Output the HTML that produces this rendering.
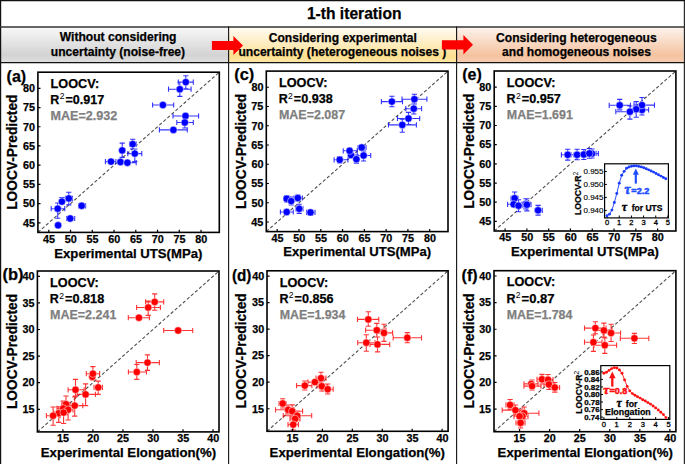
<!DOCTYPE html>
<html><head><meta charset="utf-8"><style>html,body{margin:0;padding:0;background:#fff;width:685px;height:464px;overflow:hidden}</style></head>
<body><svg width="685" height="464" viewBox="0 0 685 464" style="display:block">
<defs>
<linearGradient id="gg" x1="0" y1="0" x2="0" y2="1">
<stop offset="0" stop-color="#f8f8f8"/><stop offset="0.78" stop-color="#d3d3d3"/><stop offset="1" stop-color="#dedede"/></linearGradient>
<linearGradient id="gy" x1="0" y1="0" x2="0" y2="1">
<stop offset="0" stop-color="#fffbf2"/><stop offset="0.45" stop-color="#feedc2"/><stop offset="0.82" stop-color="#fde08e"/><stop offset="1" stop-color="#fde6a6"/></linearGradient>
<linearGradient id="go" x1="0" y1="0" x2="0" y2="1">
<stop offset="0" stop-color="#fdf3ed"/><stop offset="0.8" stop-color="#f4c29e"/><stop offset="1" stop-color="#f6ceb2"/></linearGradient>
</defs>
<rect width="685" height="464" fill="#fff"/>
<rect x="1" y="27.5" width="227.5" height="35" fill="url(#gg)"/>
<rect x="228.5" y="27.5" width="228" height="35" fill="url(#gy)"/>
<rect x="456.5" y="27.5" width="227" height="35" fill="url(#go)"/>
<g stroke="#111" fill="none">
<line x1="0.6" y1="0" x2="0.6" y2="464" stroke-width="1.2"/>
<line x1="684.4" y1="0" x2="684.4" y2="464" stroke="#2a2a2a" stroke-width="1.2"/>
<line x1="0" y1="0.6" x2="685" y2="0.6" stroke-width="1.2"/>
<line x1="0" y1="26.9" x2="685" y2="26.9" stroke="#333" stroke-width="1.5"/>
<line x1="0" y1="62.6" x2="685" y2="62.6" stroke-width="1.3"/>
<line x1="228.6" y1="26.5" x2="228.6" y2="464" stroke-width="1.1"/>
<line x1="456.6" y1="26.5" x2="456.6" y2="464" stroke-width="1.1"/>
</g>
<text x="306.92" y="18.7" font-family="Liberation Sans, sans-serif" font-size="15.65" font-weight="bold" fill="#000" textLength="94.55" lengthAdjust="spacingAndGlyphs" stroke="#000" stroke-width="0.25" >1-th iteration</text>
<text x="59.79" y="40.9" font-family="Liberation Sans, sans-serif" font-size="12.07" font-weight="bold" fill="#000" textLength="116.72" lengthAdjust="spacingAndGlyphs" stroke="#000" stroke-width="0.25" >Without considering</text>
<text x="50.85" y="55.5" font-family="Liberation Sans, sans-serif" font-size="12.07" font-weight="bold" fill="#000" textLength="134.25" lengthAdjust="spacingAndGlyphs" stroke="#000" stroke-width="0.25" >uncertainty (noise-free)</text>
<text x="268.81" y="42.0" font-family="Liberation Sans, sans-serif" font-size="12.07" font-weight="bold" fill="#000" textLength="147.95" lengthAdjust="spacingAndGlyphs" stroke="#000" stroke-width="0.25" >Considering experimental</text>
<text x="238.45" y="56.4" font-family="Liberation Sans, sans-serif" font-size="12.07" font-weight="bold" fill="#000" textLength="207.95" lengthAdjust="spacingAndGlyphs" stroke="#000" stroke-width="0.25" >uncertainty (heterogeneous noises )</text>
<text x="496.1" y="41.6" font-family="Liberation Sans, sans-serif" font-size="12.07" font-weight="bold" fill="#000" textLength="160.59" lengthAdjust="spacingAndGlyphs" stroke="#000" stroke-width="0.25" >Considering heterogeneous</text>
<text x="502.05" y="56.0" font-family="Liberation Sans, sans-serif" font-size="12.07" font-weight="bold" fill="#000" textLength="148.85" lengthAdjust="spacingAndGlyphs" stroke="#000" stroke-width="0.25" >and homogeneous noises</text>
<path d="M211.9,41.1 L233.4,41.1 L233.4,35.9 L243,45.5 L233.4,55.1 L233.4,49.9 L211.9,49.9 Z" fill="#ff0000"/>
<path d="M441.9,40.199999999999996 L463.4,40.199999999999996 L463.4,35.099999999999994 L473,44.8 L463.4,54.5 L463.4,49.4 L441.9,49.4 Z" fill="#ff0000"/>
<line x1="37.9" y1="232.4" x2="219.3" y2="72.2" stroke="#505050" stroke-width="1.1" stroke-dasharray="3.3,2.1"/>
<path d="M178.3,82.1H193.3M178.3,79.5V84.69999999999999M193.3,79.5V84.69999999999999M185.8,75.7V88.9M183.20000000000002,75.7H188.4M183.20000000000002,88.9H188.4M168.5,89.2H191.1M168.5,86.60000000000001V91.8M191.1,86.60000000000001V91.8M179.8,82.0V96.4M177.20000000000002,82.0H182.4M177.20000000000002,96.4H182.4M152.6,105.0H173.7M152.6,102.4V107.6M173.7,102.4V107.6M173.0,116.0H198.6M173.0,113.4V118.6M198.6,113.4V118.6M176.8,122.5H193.3M176.8,119.9V125.1M193.3,119.9V125.1M184.8,117V128M182.20000000000002,117H187.4M182.20000000000002,128H187.4M159.4,129.9H187.3M159.4,127.30000000000001V132.5M187.3,127.30000000000001V132.5M129.5,144.1H136.2M129.5,141.5V146.7M136.2,141.5V146.7M132.7,139.2V149M130.1,139.2H135.29999999999998M130.1,149H135.29999999999998M122.2,143.1V157.4M119.60000000000001,143.1H124.8M119.60000000000001,157.4H124.8M127.8,153.6H141.8M127.8,151.0V156.2M141.8,151.0V156.2M134.8,149V161.6M132.20000000000002,149H137.4M132.20000000000002,161.6H137.4M105.4,161.6H115.9M105.4,159.0V164.2M115.9,159.0V164.2M122,162.7H136.2M122,160.1V165.29999999999998M136.2,160.1V165.29999999999998M65.4,198.4H72.5M65.4,195.8V201.0M72.5,195.8V201.0M68.8,192.2V204.9M66.2,192.2H71.39999999999999M66.2,204.9H71.39999999999999M61.9,197.5V204M59.3,197.5H64.5M59.3,204H64.5M51.2,208.7H64.8M51.2,206.1V211.29999999999998M64.8,206.1V211.29999999999998M57.7,203V218.2M55.1,203H60.300000000000004M55.1,218.2H60.300000000000004M78.5,205.8H85.6M78.5,203.20000000000002V208.4M85.6,203.20000000000002V208.4M66.6,218.5H74.7M66.6,215.9V221.1M74.7,215.9V221.1" stroke="#0000ff" stroke-width="1.1" fill="none" opacity="0.8"/>
<circle cx="185.8" cy="82.1" r="3.7" fill="#0000ff" stroke="#fff" stroke-width="0.5"/>
<circle cx="179.8" cy="89.2" r="3.7" fill="#0000ff" stroke="#fff" stroke-width="0.5"/>
<circle cx="162.9" cy="105.0" r="3.7" fill="#0000ff" stroke="#fff" stroke-width="0.5"/>
<circle cx="185.5" cy="116.0" r="3.7" fill="#0000ff" stroke="#fff" stroke-width="0.5"/>
<circle cx="184.8" cy="122.5" r="3.7" fill="#0000ff" stroke="#fff" stroke-width="0.5"/>
<circle cx="173.4" cy="129.9" r="3.7" fill="#0000ff" stroke="#fff" stroke-width="0.5"/>
<circle cx="132.7" cy="144.1" r="3.7" fill="#0000ff" stroke="#fff" stroke-width="0.5"/>
<circle cx="122.2" cy="150.4" r="3.7" fill="#0000ff" stroke="#fff" stroke-width="0.5"/>
<circle cx="134.8" cy="153.6" r="3.7" fill="#0000ff" stroke="#fff" stroke-width="0.5"/>
<circle cx="111.0" cy="161.6" r="3.7" fill="#0000ff" stroke="#fff" stroke-width="0.5"/>
<circle cx="120.5" cy="162.0" r="3.7" fill="#0000ff" stroke="#fff" stroke-width="0.5"/>
<circle cx="127.4" cy="162.7" r="3.7" fill="#0000ff" stroke="#fff" stroke-width="0.5"/>
<circle cx="68.8" cy="198.4" r="3.7" fill="#0000ff" stroke="#fff" stroke-width="0.5"/>
<circle cx="61.9" cy="201.6" r="3.7" fill="#0000ff" stroke="#fff" stroke-width="0.5"/>
<circle cx="57.7" cy="208.7" r="3.7" fill="#0000ff" stroke="#fff" stroke-width="0.5"/>
<circle cx="81.7" cy="205.8" r="3.7" fill="#0000ff" stroke="#fff" stroke-width="0.5"/>
<circle cx="70.2" cy="218.5" r="3.7" fill="#0000ff" stroke="#fff" stroke-width="0.5"/>
<circle cx="58.1" cy="225.3" r="3.7" fill="#0000ff" stroke="#fff" stroke-width="0.5"/>
<rect x="37.9" y="72.2" width="181.4" height="160.2" fill="none" stroke="#000" stroke-width="1.6"/>
<path d="M48.78,232.4V229.8M37.9,222.80H40.5M70.53,232.4V229.8M37.9,203.59H40.5M92.28,232.4V229.8M37.9,184.38H40.5M114.03,232.4V229.8M37.9,165.17H40.5M135.78,232.4V229.8M37.9,145.96H40.5M157.53,232.4V229.8M37.9,126.75H40.5M179.28,232.4V229.8M37.9,107.54H40.5M201.03,232.4V229.8M37.9,88.34H40.5" stroke="#000" stroke-width="1.2"/>
<text x="43.04" y="242.70000000000002" font-family="Liberation Sans, sans-serif" font-size="10.8" font-weight="bold" fill="#000" textLength="12.01" lengthAdjust="spacingAndGlyphs" stroke="#000" stroke-width="0.25" >45</text>
<text x="22.89" y="226.59568345323743" font-family="Liberation Sans, sans-serif" font-size="10.8" font-weight="bold" fill="#000" textLength="12.01" lengthAdjust="spacingAndGlyphs" stroke="#000" stroke-width="0.25" >45</text>
<text x="64.77" y="242.70000000000002" font-family="Liberation Sans, sans-serif" font-size="10.8" font-weight="bold" fill="#000" textLength="12.01" lengthAdjust="spacingAndGlyphs" stroke="#000" stroke-width="0.25" >50</text>
<text x="23.03" y="207.38705035971225" font-family="Liberation Sans, sans-serif" font-size="10.8" font-weight="bold" fill="#000" textLength="12.01" lengthAdjust="spacingAndGlyphs" stroke="#000" stroke-width="0.25" >50</text>
<text x="86.45" y="242.70000000000002" font-family="Liberation Sans, sans-serif" font-size="10.8" font-weight="bold" fill="#000" textLength="12.01" lengthAdjust="spacingAndGlyphs" stroke="#000" stroke-width="0.25" >55</text>
<text x="22.89" y="188.17841726618707" font-family="Liberation Sans, sans-serif" font-size="10.8" font-weight="bold" fill="#000" textLength="12.01" lengthAdjust="spacingAndGlyphs" stroke="#000" stroke-width="0.25" >55</text>
<text x="108.24" y="242.70000000000002" font-family="Liberation Sans, sans-serif" font-size="10.8" font-weight="bold" fill="#000" textLength="12.01" lengthAdjust="spacingAndGlyphs" stroke="#000" stroke-width="0.25" >60</text>
<text x="23.03" y="168.9697841726619" font-family="Liberation Sans, sans-serif" font-size="10.8" font-weight="bold" fill="#000" textLength="12.01" lengthAdjust="spacingAndGlyphs" stroke="#000" stroke-width="0.25" >60</text>
<text x="129.92" y="242.70000000000002" font-family="Liberation Sans, sans-serif" font-size="10.8" font-weight="bold" fill="#000" textLength="12.01" lengthAdjust="spacingAndGlyphs" stroke="#000" stroke-width="0.25" >65</text>
<text x="22.89" y="149.7611510791367" font-family="Liberation Sans, sans-serif" font-size="10.8" font-weight="bold" fill="#000" textLength="12.01" lengthAdjust="spacingAndGlyphs" stroke="#000" stroke-width="0.25" >65</text>
<text x="151.71" y="242.70000000000002" font-family="Liberation Sans, sans-serif" font-size="10.8" font-weight="bold" fill="#000" textLength="12.01" lengthAdjust="spacingAndGlyphs" stroke="#000" stroke-width="0.25" >70</text>
<text x="23.03" y="130.55251798561153" font-family="Liberation Sans, sans-serif" font-size="10.8" font-weight="bold" fill="#000" textLength="12.01" lengthAdjust="spacingAndGlyphs" stroke="#000" stroke-width="0.25" >70</text>
<text x="173.39" y="242.70000000000002" font-family="Liberation Sans, sans-serif" font-size="10.8" font-weight="bold" fill="#000" textLength="12.01" lengthAdjust="spacingAndGlyphs" stroke="#000" stroke-width="0.25" >75</text>
<text x="22.89" y="111.34388489208635" font-family="Liberation Sans, sans-serif" font-size="10.8" font-weight="bold" fill="#000" textLength="12.01" lengthAdjust="spacingAndGlyphs" stroke="#000" stroke-width="0.25" >75</text>
<text x="195.27" y="242.70000000000002" font-family="Liberation Sans, sans-serif" font-size="10.8" font-weight="bold" fill="#000" textLength="12.01" lengthAdjust="spacingAndGlyphs" stroke="#000" stroke-width="0.25" >80</text>
<text x="23.03" y="92.13525179856116" font-family="Liberation Sans, sans-serif" font-size="10.8" font-weight="bold" fill="#000" textLength="12.01" lengthAdjust="spacingAndGlyphs" stroke="#000" stroke-width="0.25" >80</text>
<text x="6.6" y="81.5" font-family="Liberation Sans, sans-serif" font-size="16" font-weight="bold" fill="#000" textLength="19.6" lengthAdjust="spacingAndGlyphs" stroke="#000" stroke-width="0.25" >(a)</text>
<text x="50.56" y="87.9" font-family="Liberation Sans, sans-serif" font-size="12.5" font-weight="bold" fill="#000" textLength="48.64" lengthAdjust="spacingAndGlyphs" stroke="#000" stroke-width="0.25" >LOOCV:</text>
<text x="50.3" y="103.89999999999999" font-family="Liberation Sans, sans-serif" font-size="12.5" font-weight="bold" fill="#000" stroke="#000" stroke-width="0.25">R</text>
<text x="59.64" y="99.10000000000001" font-family="Liberation Sans, sans-serif" font-size="8.6" fill="#000">2</text>
<text x="65.48" y="103.89999999999999" font-family="Liberation Sans, sans-serif" font-size="12.5" font-weight="bold" fill="#000" textLength="38.77" lengthAdjust="spacingAndGlyphs" stroke="#000" stroke-width="0.25" >=0.917</text>
<text x="50.56" y="119.8" font-family="Liberation Sans, sans-serif" font-size="12.5" font-weight="bold" fill="#7f7f7f" textLength="66.74" lengthAdjust="spacingAndGlyphs" stroke="#7f7f7f" stroke-width="0.25" >MAE=2.932</text>
<text x="54.32" y="257.7" font-family="Liberation Sans, sans-serif" font-size="13.15" font-weight="bold" fill="#000" textLength="148.03" lengthAdjust="spacingAndGlyphs" stroke="#000" stroke-width="0.25" >Experimental UTS(MPa)</text>
<text transform="translate(17.0,208.9) rotate(-90)" x="-0.91" y="0" font-family="Liberation Sans, sans-serif" font-size="14.2" font-weight="bold" fill="#000" textLength="115.21" lengthAdjust="spacingAndGlyphs" stroke="#000" stroke-width="0.25">LOOCV-Predicted</text>
<line x1="266.3" y1="231.6" x2="448.0" y2="71.1" stroke="#505050" stroke-width="1.1" stroke-dasharray="3.3,2.1"/>
<path d="M381.4,101.6H402.5M381.4,99.0V104.19999999999999M402.5,99.0V104.19999999999999M391.9,96.3V106.7M389.29999999999995,96.3H394.5M389.29999999999995,106.7H394.5M402.0,99.2H426.9M402.0,96.60000000000001V101.8M426.9,96.60000000000001V101.8M414.4,94.3V104M411.79999999999995,94.3H417.0M411.79999999999995,104H417.0M405.8,108.7H421.6M405.8,106.10000000000001V111.3M421.6,106.10000000000001V111.3M413.8,104V114M411.2,104H416.40000000000003M411.2,114H416.40000000000003M397.5,118.5H419.7M397.5,115.9V121.1M419.7,115.9V121.1M408.5,112.4V124.5M405.9,112.4H411.1M405.9,124.5H411.1M388.5,124.9H416.4M388.5,122.30000000000001V127.5M416.4,122.30000000000001V127.5M402.3,119.2V132.3M399.7,119.2H404.90000000000003M399.7,132.3H404.90000000000003M358,147.5H366M358,144.9V150.1M366,144.9V150.1M361.7,144.6V150.4M359.09999999999997,144.6H364.3M359.09999999999997,150.4H364.3M343.2,150.8H357.2M343.2,148.20000000000002V153.4M357.2,148.20000000000002V153.4M357.2,155.5H370.7M357.2,152.9V158.1M370.7,152.9V158.1M363.6,151V161M361.0,151H366.20000000000005M361.0,161H366.20000000000005M356.4,155V163.3M353.79999999999995,155H359.0M353.79999999999995,163.3H359.0M334.1,159.8H347.9M334.1,157.20000000000002V162.4M347.9,157.20000000000002V162.4M339.7,156.5V163M337.09999999999997,156.5H342.3M337.09999999999997,163H342.3M284,198.7H290M284,196.1V201.29999999999998M290,196.1V201.29999999999998M286.7,195.5V202M284.09999999999997,195.5H289.3M284.09999999999997,202H289.3M291.2,197V205M288.59999999999997,197H293.8M288.59999999999997,205H293.8M294,198.0H302.4M294,195.4V200.6M302.4,195.4V200.6M297.8,195V201M295.2,195H300.40000000000003M295.2,201H300.40000000000003M296,208.8H303M296,206.20000000000002V211.4M303,206.20000000000002V211.4M299.2,204.3V213.4M296.59999999999997,204.3H301.8M296.59999999999997,213.4H301.8M280.4,212.0H293.3M280.4,209.4V214.6M293.3,209.4V214.6M306.6,212.4H315M306.6,209.8V215.0M315,209.8V215.0M310.5,209.5V215.5M307.9,209.5H313.1M307.9,215.5H313.1" stroke="#0000ff" stroke-width="1.1" fill="none" opacity="0.8"/>
<circle cx="391.9" cy="101.6" r="3.7" fill="#0000ff" stroke="#fff" stroke-width="0.5"/>
<circle cx="414.4" cy="99.2" r="3.7" fill="#0000ff" stroke="#fff" stroke-width="0.5"/>
<circle cx="413.8" cy="108.7" r="3.7" fill="#0000ff" stroke="#fff" stroke-width="0.5"/>
<circle cx="408.5" cy="118.5" r="3.7" fill="#0000ff" stroke="#fff" stroke-width="0.5"/>
<circle cx="402.3" cy="124.9" r="3.7" fill="#0000ff" stroke="#fff" stroke-width="0.5"/>
<circle cx="361.7" cy="147.5" r="3.7" fill="#0000ff" stroke="#fff" stroke-width="0.5"/>
<circle cx="351.0" cy="155.1" r="3.7" fill="#0000ff" stroke="#fff" stroke-width="0.5"/>
<circle cx="349.6" cy="150.8" r="3.7" fill="#0000ff" stroke="#fff" stroke-width="0.5"/>
<circle cx="363.6" cy="155.5" r="3.7" fill="#0000ff" stroke="#fff" stroke-width="0.5"/>
<circle cx="356.4" cy="159.2" r="3.7" fill="#0000ff" stroke="#fff" stroke-width="0.5"/>
<circle cx="339.7" cy="159.8" r="3.7" fill="#0000ff" stroke="#fff" stroke-width="0.5"/>
<circle cx="286.7" cy="198.7" r="3.7" fill="#0000ff" stroke="#fff" stroke-width="0.5"/>
<circle cx="291.2" cy="201.1" r="3.7" fill="#0000ff" stroke="#fff" stroke-width="0.5"/>
<circle cx="297.8" cy="198.0" r="3.7" fill="#0000ff" stroke="#fff" stroke-width="0.5"/>
<circle cx="299.2" cy="208.8" r="3.7" fill="#0000ff" stroke="#fff" stroke-width="0.5"/>
<circle cx="286.7" cy="212.0" r="3.7" fill="#0000ff" stroke="#fff" stroke-width="0.5"/>
<circle cx="310.5" cy="212.4" r="3.7" fill="#0000ff" stroke="#fff" stroke-width="0.5"/>
<rect x="266.3" y="71.1" width="181.7" height="160.5" fill="none" stroke="#000" stroke-width="1.6"/>
<path d="M277.19,231.6V229.0M266.3,221.98H268.90000000000003M298.98,231.6V229.0M266.3,202.73H268.90000000000003M320.77,231.6V229.0M266.3,183.49H268.90000000000003M342.55,231.6V229.0M266.3,164.24H268.90000000000003M364.34,231.6V229.0M266.3,145.00H268.90000000000003M386.13,231.6V229.0M266.3,125.75H268.90000000000003M407.91,231.6V229.0M266.3,106.51H268.90000000000003M429.70,231.6V229.0M266.3,87.27H268.90000000000003" stroke="#000" stroke-width="1.2"/>
<text x="271.46" y="241.9" font-family="Liberation Sans, sans-serif" font-size="10.8" font-weight="bold" fill="#000" textLength="12.01" lengthAdjust="spacingAndGlyphs" stroke="#000" stroke-width="0.25" >45</text>
<text x="251.29" y="225.77769784172662" font-family="Liberation Sans, sans-serif" font-size="10.8" font-weight="bold" fill="#000" textLength="12.01" lengthAdjust="spacingAndGlyphs" stroke="#000" stroke-width="0.25" >45</text>
<text x="293.23" y="241.9" font-family="Liberation Sans, sans-serif" font-size="10.8" font-weight="bold" fill="#000" textLength="12.01" lengthAdjust="spacingAndGlyphs" stroke="#000" stroke-width="0.25" >50</text>
<text x="251.43" y="206.53309352517985" font-family="Liberation Sans, sans-serif" font-size="10.8" font-weight="bold" fill="#000" textLength="12.01" lengthAdjust="spacingAndGlyphs" stroke="#000" stroke-width="0.25" >50</text>
<text x="314.94" y="241.9" font-family="Liberation Sans, sans-serif" font-size="10.8" font-weight="bold" fill="#000" textLength="12.01" lengthAdjust="spacingAndGlyphs" stroke="#000" stroke-width="0.25" >55</text>
<text x="251.29" y="187.2884892086331" font-family="Liberation Sans, sans-serif" font-size="10.8" font-weight="bold" fill="#000" textLength="12.01" lengthAdjust="spacingAndGlyphs" stroke="#000" stroke-width="0.25" >55</text>
<text x="336.77" y="241.9" font-family="Liberation Sans, sans-serif" font-size="10.8" font-weight="bold" fill="#000" textLength="12.01" lengthAdjust="spacingAndGlyphs" stroke="#000" stroke-width="0.25" >60</text>
<text x="251.43" y="168.04388489208634" font-family="Liberation Sans, sans-serif" font-size="10.8" font-weight="bold" fill="#000" textLength="12.01" lengthAdjust="spacingAndGlyphs" stroke="#000" stroke-width="0.25" >60</text>
<text x="358.49" y="241.9" font-family="Liberation Sans, sans-serif" font-size="10.8" font-weight="bold" fill="#000" textLength="12.01" lengthAdjust="spacingAndGlyphs" stroke="#000" stroke-width="0.25" >65</text>
<text x="251.29" y="148.79928057553957" font-family="Liberation Sans, sans-serif" font-size="10.8" font-weight="bold" fill="#000" textLength="12.01" lengthAdjust="spacingAndGlyphs" stroke="#000" stroke-width="0.25" >65</text>
<text x="380.31" y="241.9" font-family="Liberation Sans, sans-serif" font-size="10.8" font-weight="bold" fill="#000" textLength="12.01" lengthAdjust="spacingAndGlyphs" stroke="#000" stroke-width="0.25" >70</text>
<text x="251.43" y="129.5546762589928" font-family="Liberation Sans, sans-serif" font-size="10.8" font-weight="bold" fill="#000" textLength="12.01" lengthAdjust="spacingAndGlyphs" stroke="#000" stroke-width="0.25" >70</text>
<text x="402.02" y="241.9" font-family="Liberation Sans, sans-serif" font-size="10.8" font-weight="bold" fill="#000" textLength="12.01" lengthAdjust="spacingAndGlyphs" stroke="#000" stroke-width="0.25" >75</text>
<text x="251.29" y="110.31007194244604" font-family="Liberation Sans, sans-serif" font-size="10.8" font-weight="bold" fill="#000" textLength="12.01" lengthAdjust="spacingAndGlyphs" stroke="#000" stroke-width="0.25" >75</text>
<text x="423.94" y="241.9" font-family="Liberation Sans, sans-serif" font-size="10.8" font-weight="bold" fill="#000" textLength="12.01" lengthAdjust="spacingAndGlyphs" stroke="#000" stroke-width="0.25" >80</text>
<text x="251.43" y="91.06546762589927" font-family="Liberation Sans, sans-serif" font-size="10.8" font-weight="bold" fill="#000" textLength="12.01" lengthAdjust="spacingAndGlyphs" stroke="#000" stroke-width="0.25" >80</text>
<text x="234.18" y="80.2" font-family="Liberation Sans, sans-serif" font-size="16" font-weight="bold" fill="#000" textLength="20.03" lengthAdjust="spacingAndGlyphs" stroke="#000" stroke-width="0.25" >(c)</text>
<text x="278.96" y="86.8" font-family="Liberation Sans, sans-serif" font-size="12.5" font-weight="bold" fill="#000" textLength="48.64" lengthAdjust="spacingAndGlyphs" stroke="#000" stroke-width="0.25" >LOOCV:</text>
<text x="278.7" y="103.4" font-family="Liberation Sans, sans-serif" font-size="12.5" font-weight="bold" fill="#000" stroke="#000" stroke-width="0.25">R</text>
<text x="288.04" y="98.6" font-family="Liberation Sans, sans-serif" font-size="8.6" fill="#000">2</text>
<text x="293.88" y="103.4" font-family="Liberation Sans, sans-serif" font-size="12.5" font-weight="bold" fill="#000" textLength="38.91" lengthAdjust="spacingAndGlyphs" stroke="#000" stroke-width="0.25" >=0.938</text>
<text x="278.97" y="119.3" font-family="Liberation Sans, sans-serif" font-size="12.5" font-weight="bold" fill="#7f7f7f" textLength="66.18" lengthAdjust="spacingAndGlyphs" stroke="#7f7f7f" stroke-width="0.25" >MAE=2.087</text>
<text x="283.32" y="256.4" font-family="Liberation Sans, sans-serif" font-size="13.15" font-weight="bold" fill="#000" textLength="147.83" lengthAdjust="spacingAndGlyphs" stroke="#000" stroke-width="0.25" >Experimental UTS(MPa)</text>
<text transform="translate(245.6,208.1) rotate(-90)" x="-0.91" y="0" font-family="Liberation Sans, sans-serif" font-size="14.2" font-weight="bold" fill="#000" textLength="115.21" lengthAdjust="spacingAndGlyphs" stroke="#000" stroke-width="0.25">LOOCV-Predicted</text>
<line x1="494.2" y1="231.0" x2="675.9" y2="71.0" stroke="#505050" stroke-width="1.1" stroke-dasharray="3.3,2.1"/>
<path d="M636,109.9H648.6M636,107.30000000000001V112.5M648.6,107.30000000000001V112.5M642.0,105V115M639.4,105H644.6M639.4,115H644.6M609.2,105.3H630.4M609.2,102.7V107.89999999999999M630.4,102.7V107.89999999999999M619.7,99.4V109.9M617.1,99.4H622.3000000000001M617.1,109.9H622.3000000000001M634,105.1H654.5M634,102.5V107.69999999999999M654.5,102.5V107.69999999999999M642.0,97.5V111M639.4,97.5H644.6M639.4,111H644.6M630,109.2H642M630,106.60000000000001V111.8M642,106.60000000000001V111.8M636.2,101.6V117.2M633.6,101.6H638.8000000000001M633.6,117.2H638.8000000000001M615.8,111.7H636M615.8,109.10000000000001V114.3M636,109.10000000000001V114.3M629.9,106V119.1M627.3,106H632.5M627.3,119.1H632.5M561.4,154.8H574M561.4,152.20000000000002V157.4M574,152.20000000000002V157.4M567.7,149.3V160.1M565.1,149.3H570.3000000000001M565.1,160.1H570.3000000000001M571,154.8H583M571,152.20000000000002V157.4M583,152.20000000000002V157.4M577.1,149.3V159.8M574.5,149.3H579.7M574.5,159.8H579.7M578,154.5H590M578,151.9V157.1M590,151.9V157.1M583.8,149.5V159.5M581.1999999999999,149.5H586.4M581.1999999999999,159.5H586.4M586,153.6H598.4M586,151.0V156.2M598.4,151.0V156.2M592.0,149V158M589.4,149H594.6M589.4,158H594.6M584,153.4H596M584,150.8V156.0M596,150.8V156.0M589.4,148.5V158.3M586.8,148.5H592.0M586.8,158.3H592.0M511,198.3H518M511,195.70000000000002V200.9M518,195.70000000000002V200.9M514.6,192V203M512.0,192H517.2M512.0,203H517.2M507.6,204.3H519M507.6,201.70000000000002V206.9M519,201.70000000000002V206.9M514,205.7H523M514,203.1V208.29999999999998M523,203.1V208.29999999999998M518.5,199.7V211.7M515.9,199.7H521.1M515.9,211.7H521.1M522,204.0H530M522,201.4V206.6M530,201.4V206.6M525.9,198.7V209M523.3,198.7H528.5M523.3,209H528.5M523,204.7H531M523,202.1V207.29999999999998M531,202.1V207.29999999999998M526.9,198.7V210.9M524.3,198.7H529.5M524.3,210.9H529.5M535.3,210.3H542.3M535.3,207.70000000000002V212.9M542.3,207.70000000000002V212.9M538.1,205.4V215.1M535.5,205.4H540.7M535.5,215.1H540.7" stroke="#0000ff" stroke-width="1.1" fill="none" opacity="0.8"/>
<circle cx="642.0" cy="109.9" r="3.7" fill="#0000ff" stroke="#fff" stroke-width="0.5"/>
<circle cx="619.7" cy="105.3" r="3.7" fill="#0000ff" stroke="#fff" stroke-width="0.5"/>
<circle cx="642.0" cy="105.1" r="3.7" fill="#0000ff" stroke="#fff" stroke-width="0.5"/>
<circle cx="636.2" cy="109.2" r="3.7" fill="#0000ff" stroke="#fff" stroke-width="0.5"/>
<circle cx="629.9" cy="111.7" r="3.7" fill="#0000ff" stroke="#fff" stroke-width="0.5"/>
<circle cx="567.7" cy="154.8" r="3.7" fill="#0000ff" stroke="#fff" stroke-width="0.5"/>
<circle cx="577.1" cy="154.8" r="3.7" fill="#0000ff" stroke="#fff" stroke-width="0.5"/>
<circle cx="583.8" cy="154.5" r="3.7" fill="#0000ff" stroke="#fff" stroke-width="0.5"/>
<circle cx="592.0" cy="153.6" r="3.7" fill="#0000ff" stroke="#fff" stroke-width="0.5"/>
<circle cx="589.4" cy="153.4" r="3.7" fill="#0000ff" stroke="#fff" stroke-width="0.5"/>
<circle cx="514.6" cy="198.3" r="3.7" fill="#0000ff" stroke="#fff" stroke-width="0.5"/>
<circle cx="513.6" cy="204.3" r="3.7" fill="#0000ff" stroke="#fff" stroke-width="0.5"/>
<circle cx="518.5" cy="205.7" r="3.7" fill="#0000ff" stroke="#fff" stroke-width="0.5"/>
<circle cx="525.9" cy="204.0" r="3.7" fill="#0000ff" stroke="#fff" stroke-width="0.5"/>
<circle cx="526.9" cy="204.7" r="3.7" fill="#0000ff" stroke="#fff" stroke-width="0.5"/>
<circle cx="538.1" cy="210.3" r="3.7" fill="#0000ff" stroke="#fff" stroke-width="0.5"/>
<rect x="494.2" y="71.0" width="181.7" height="160.0" fill="none" stroke="#000" stroke-width="1.6"/>
<path d="M505.09,231.0V228.4M494.2,221.41H496.8M526.88,231.0V228.4M494.2,202.22H496.8M548.67,231.0V228.4M494.2,183.04H496.8M570.45,231.0V228.4M494.2,163.85H496.8M592.24,231.0V228.4M494.2,144.67H496.8M614.03,231.0V228.4M494.2,125.48H496.8M635.81,231.0V228.4M494.2,106.30H496.8M657.60,231.0V228.4M494.2,87.12H496.8" stroke="#000" stroke-width="1.2"/>
<text x="499.36" y="241.3" font-family="Liberation Sans, sans-serif" font-size="10.8" font-weight="bold" fill="#000" textLength="12.01" lengthAdjust="spacingAndGlyphs" stroke="#000" stroke-width="0.25" >45</text>
<text x="479.19" y="225.20767386091129" font-family="Liberation Sans, sans-serif" font-size="10.8" font-weight="bold" fill="#000" textLength="12.01" lengthAdjust="spacingAndGlyphs" stroke="#000" stroke-width="0.25" >45</text>
<text x="521.13" y="241.3" font-family="Liberation Sans, sans-serif" font-size="10.8" font-weight="bold" fill="#000" textLength="12.01" lengthAdjust="spacingAndGlyphs" stroke="#000" stroke-width="0.25" >50</text>
<text x="479.33" y="206.02302158273383" font-family="Liberation Sans, sans-serif" font-size="10.8" font-weight="bold" fill="#000" textLength="12.01" lengthAdjust="spacingAndGlyphs" stroke="#000" stroke-width="0.25" >50</text>
<text x="542.84" y="241.3" font-family="Liberation Sans, sans-serif" font-size="10.8" font-weight="bold" fill="#000" textLength="12.01" lengthAdjust="spacingAndGlyphs" stroke="#000" stroke-width="0.25" >55</text>
<text x="479.19" y="186.83836930455638" font-family="Liberation Sans, sans-serif" font-size="10.8" font-weight="bold" fill="#000" textLength="12.01" lengthAdjust="spacingAndGlyphs" stroke="#000" stroke-width="0.25" >55</text>
<text x="564.67" y="241.3" font-family="Liberation Sans, sans-serif" font-size="10.8" font-weight="bold" fill="#000" textLength="12.01" lengthAdjust="spacingAndGlyphs" stroke="#000" stroke-width="0.25" >60</text>
<text x="479.33" y="167.6537170263789" font-family="Liberation Sans, sans-serif" font-size="10.8" font-weight="bold" fill="#000" textLength="12.01" lengthAdjust="spacingAndGlyphs" stroke="#000" stroke-width="0.25" >60</text>
<text x="586.39" y="241.3" font-family="Liberation Sans, sans-serif" font-size="10.8" font-weight="bold" fill="#000" textLength="12.01" lengthAdjust="spacingAndGlyphs" stroke="#000" stroke-width="0.25" >65</text>
<text x="479.19" y="148.46906474820145" font-family="Liberation Sans, sans-serif" font-size="10.8" font-weight="bold" fill="#000" textLength="12.01" lengthAdjust="spacingAndGlyphs" stroke="#000" stroke-width="0.25" >65</text>
<text x="608.21" y="241.3" font-family="Liberation Sans, sans-serif" font-size="10.8" font-weight="bold" fill="#000" textLength="12.01" lengthAdjust="spacingAndGlyphs" stroke="#000" stroke-width="0.25" >70</text>
<text x="479.33" y="129.284412470024" font-family="Liberation Sans, sans-serif" font-size="10.8" font-weight="bold" fill="#000" textLength="12.01" lengthAdjust="spacingAndGlyphs" stroke="#000" stroke-width="0.25" >70</text>
<text x="629.92" y="241.3" font-family="Liberation Sans, sans-serif" font-size="10.8" font-weight="bold" fill="#000" textLength="12.01" lengthAdjust="spacingAndGlyphs" stroke="#000" stroke-width="0.25" >75</text>
<text x="479.19" y="110.09976019184653" font-family="Liberation Sans, sans-serif" font-size="10.8" font-weight="bold" fill="#000" textLength="12.01" lengthAdjust="spacingAndGlyphs" stroke="#000" stroke-width="0.25" >75</text>
<text x="651.84" y="241.3" font-family="Liberation Sans, sans-serif" font-size="10.8" font-weight="bold" fill="#000" textLength="12.01" lengthAdjust="spacingAndGlyphs" stroke="#000" stroke-width="0.25" >80</text>
<text x="479.33" y="90.91510791366908" font-family="Liberation Sans, sans-serif" font-size="10.8" font-weight="bold" fill="#000" textLength="12.01" lengthAdjust="spacingAndGlyphs" stroke="#000" stroke-width="0.25" >80</text>
<text x="462.2" y="80.0" font-family="Liberation Sans, sans-serif" font-size="16" font-weight="bold" fill="#000" textLength="19.6" lengthAdjust="spacingAndGlyphs" stroke="#000" stroke-width="0.25" >(e)</text>
<text x="506.86" y="86.7" font-family="Liberation Sans, sans-serif" font-size="12.5" font-weight="bold" fill="#000" textLength="48.64" lengthAdjust="spacingAndGlyphs" stroke="#000" stroke-width="0.25" >LOOCV:</text>
<text x="506.59999999999997" y="103.30000000000001" font-family="Liberation Sans, sans-serif" font-size="12.5" font-weight="bold" fill="#000" stroke="#000" stroke-width="0.25">R</text>
<text x="515.94" y="98.5" font-family="Liberation Sans, sans-serif" font-size="8.6" fill="#000">2</text>
<text x="521.77" y="103.30000000000001" font-family="Liberation Sans, sans-serif" font-size="12.5" font-weight="bold" fill="#000" textLength="39.08" lengthAdjust="spacingAndGlyphs" stroke="#000" stroke-width="0.25" >=0.957</text>
<text x="506.87" y="119.2" font-family="Liberation Sans, sans-serif" font-size="12.5" font-weight="bold" fill="#7f7f7f" textLength="65.98" lengthAdjust="spacingAndGlyphs" stroke="#7f7f7f" stroke-width="0.25" >MAE=1.691</text>
<text x="511.12" y="256.2" font-family="Liberation Sans, sans-serif" font-size="13.15" font-weight="bold" fill="#000" textLength="147.83" lengthAdjust="spacingAndGlyphs" stroke="#000" stroke-width="0.25" >Experimental UTS(MPa)</text>
<text transform="translate(473.6,207.9) rotate(-90)" x="-0.91" y="0" font-family="Liberation Sans, sans-serif" font-size="14.2" font-weight="bold" fill="#000" textLength="115.11" lengthAdjust="spacingAndGlyphs" stroke="#000" stroke-width="0.25">LOOCV-Predicted</text>
<line x1="37.4" y1="431.9" x2="219.0" y2="271.0" stroke="#505050" stroke-width="1.1" stroke-dasharray="3.3,2.1"/>
<path d="M145.6,301.9H163.7M145.6,299.29999999999995V304.5M163.7,299.29999999999995V304.5M154.7,293.9V310.2M152.1,293.9H157.29999999999998M152.1,310.2H157.29999999999998M136.6,307.5H160.4M136.6,304.9V310.1M160.4,304.9V310.1M148.2,301V315.4M145.6,301H150.79999999999998M145.6,315.4H150.79999999999998M128.3,317.7H149.4M128.3,315.09999999999997V320.3M149.4,315.09999999999997V320.3M163.7,330.5H192.7M163.7,327.9V333.1M192.7,327.9V333.1M136.2,362.6H159.4M136.2,360.0V365.20000000000005M159.4,360.0V365.20000000000005M147.5,354.9V370.4M144.9,354.9H150.1M144.9,370.4H150.1M128.4,372.0H146.5M128.4,369.4V374.6M146.5,369.4V374.6M136.8,364.5V379.4M134.20000000000002,364.5H139.4M134.20000000000002,379.4H139.4M86.3,373.7H99.6M86.3,371.09999999999997V376.3M99.6,371.09999999999997V376.3M92.9,366.6V380M90.30000000000001,366.6H95.5M90.30000000000001,380H95.5M94,387.4H102.5M94,384.79999999999995V390.0M102.5,384.79999999999995V390.0M98.2,381.1V394.4M95.60000000000001,381.1H100.8M95.60000000000001,394.4H100.8M68.1,389.8H84.2M68.1,387.2V392.40000000000003M84.2,387.2V392.40000000000003M75.5,379.4V396M72.9,379.4H78.1M72.9,396H78.1M77.2,394.4H95.4M77.2,391.79999999999995V397.0M95.4,391.79999999999995V397.0M85.6,383.9V405.6M83.0,383.9H88.19999999999999M83.0,405.6H88.19999999999999M62,404.2H70M62,401.59999999999997V406.8M70,401.59999999999997V406.8M66.0,396V410M63.4,396H68.6M63.4,410H68.6M68.8,405.6H82.8M68.8,403.0V408.20000000000005M82.8,403.0V408.20000000000005M74.7,397V416.1M72.10000000000001,397H77.3M72.10000000000001,416.1H77.3M57,408.4H69M57,405.79999999999995V411.0M69,405.79999999999995V411.0M63.2,401V415M60.6,401H65.8M60.6,415H65.8M64,409.8H73M64,407.2V412.40000000000003M73,407.2V412.40000000000003M68.1,403V420M65.5,403H70.69999999999999M65.5,420H70.69999999999999M54,413.3H63M54,410.7V415.90000000000003M63,410.7V415.90000000000003M58.7,406.7V422.4M56.1,406.7H61.300000000000004M56.1,422.4H61.300000000000004M60,412.6H67M60,410.0V415.20000000000005M67,410.0V415.20000000000005M63.6,404V423.5M61.0,404H66.2M61.0,423.5H66.2M46.4,415.7H60M46.4,413.09999999999997V418.3M60,413.09999999999997V418.3M53.1,407V425.2M50.5,407H55.7M50.5,425.2H55.7" stroke="#ff0000" stroke-width="1.1" fill="none" opacity="0.8"/>
<circle cx="154.7" cy="301.9" r="3.7" fill="#ff0000" stroke="#fff" stroke-width="0.5"/>
<circle cx="148.2" cy="307.5" r="3.7" fill="#ff0000" stroke="#fff" stroke-width="0.5"/>
<circle cx="138.9" cy="317.7" r="3.7" fill="#ff0000" stroke="#fff" stroke-width="0.5"/>
<circle cx="178.1" cy="330.5" r="3.7" fill="#ff0000" stroke="#fff" stroke-width="0.5"/>
<circle cx="147.5" cy="362.6" r="3.7" fill="#ff0000" stroke="#fff" stroke-width="0.5"/>
<circle cx="136.8" cy="372.0" r="3.7" fill="#ff0000" stroke="#fff" stroke-width="0.5"/>
<circle cx="92.3" cy="376.8" r="3.7" fill="#ff0000" stroke="#fff" stroke-width="0.5"/>
<circle cx="92.9" cy="373.7" r="3.7" fill="#ff0000" stroke="#fff" stroke-width="0.5"/>
<circle cx="98.2" cy="387.4" r="3.7" fill="#ff0000" stroke="#fff" stroke-width="0.5"/>
<circle cx="75.5" cy="389.8" r="3.7" fill="#ff0000" stroke="#fff" stroke-width="0.5"/>
<circle cx="85.6" cy="394.4" r="3.7" fill="#ff0000" stroke="#fff" stroke-width="0.5"/>
<circle cx="66.0" cy="404.2" r="3.7" fill="#ff0000" stroke="#fff" stroke-width="0.5"/>
<circle cx="74.7" cy="405.6" r="3.7" fill="#ff0000" stroke="#fff" stroke-width="0.5"/>
<circle cx="63.2" cy="408.4" r="3.7" fill="#ff0000" stroke="#fff" stroke-width="0.5"/>
<circle cx="68.1" cy="409.8" r="3.7" fill="#ff0000" stroke="#fff" stroke-width="0.5"/>
<circle cx="58.7" cy="413.3" r="3.7" fill="#ff0000" stroke="#fff" stroke-width="0.5"/>
<circle cx="63.6" cy="412.6" r="3.7" fill="#ff0000" stroke="#fff" stroke-width="0.5"/>
<circle cx="53.1" cy="415.7" r="3.7" fill="#ff0000" stroke="#fff" stroke-width="0.5"/>
<rect x="37.4" y="271.0" width="181.6" height="160.89999999999998" fill="none" stroke="#000" stroke-width="1.6"/>
<path d="M62.91,431.9V429.29999999999995M37.4,409.29H40.0M92.93,431.9V429.29999999999995M37.4,382.70H40.0M122.95,431.9V429.29999999999995M37.4,356.10H40.0M152.96,431.9V429.29999999999995M37.4,329.51H40.0M182.98,431.9V429.29999999999995M37.4,302.91H40.0M213.00,431.9V429.29999999999995M37.4,276.32H40.0" stroke="#000" stroke-width="1.2"/>
<text x="56.92" y="442.2" font-family="Liberation Sans, sans-serif" font-size="10.8" font-weight="bold" fill="#000" textLength="12.01" lengthAdjust="spacingAndGlyphs" stroke="#000" stroke-width="0.25" >15</text>
<text x="22.39" y="413.09421487603305" font-family="Liberation Sans, sans-serif" font-size="10.8" font-weight="bold" fill="#000" textLength="12.01" lengthAdjust="spacingAndGlyphs" stroke="#000" stroke-width="0.25" >15</text>
<text x="87.16" y="442.2" font-family="Liberation Sans, sans-serif" font-size="10.8" font-weight="bold" fill="#000" textLength="12.01" lengthAdjust="spacingAndGlyphs" stroke="#000" stroke-width="0.25" >20</text>
<text x="22.53" y="386.499173553719" font-family="Liberation Sans, sans-serif" font-size="10.8" font-weight="bold" fill="#000" textLength="12.01" lengthAdjust="spacingAndGlyphs" stroke="#000" stroke-width="0.25" >20</text>
<text x="117.1" y="442.2" font-family="Liberation Sans, sans-serif" font-size="10.8" font-weight="bold" fill="#000" textLength="12.01" lengthAdjust="spacingAndGlyphs" stroke="#000" stroke-width="0.25" >25</text>
<text x="22.39" y="359.90413223140496" font-family="Liberation Sans, sans-serif" font-size="10.8" font-weight="bold" fill="#000" textLength="12.01" lengthAdjust="spacingAndGlyphs" stroke="#000" stroke-width="0.25" >25</text>
<text x="147.25" y="442.2" font-family="Liberation Sans, sans-serif" font-size="10.8" font-weight="bold" fill="#000" textLength="12.01" lengthAdjust="spacingAndGlyphs" stroke="#000" stroke-width="0.25" >30</text>
<text x="22.53" y="333.3090909090909" font-family="Liberation Sans, sans-serif" font-size="10.8" font-weight="bold" fill="#000" textLength="12.01" lengthAdjust="spacingAndGlyphs" stroke="#000" stroke-width="0.25" >30</text>
<text x="177.2" y="442.2" font-family="Liberation Sans, sans-serif" font-size="10.8" font-weight="bold" fill="#000" textLength="12.01" lengthAdjust="spacingAndGlyphs" stroke="#000" stroke-width="0.25" >35</text>
<text x="22.39" y="306.71404958677687" font-family="Liberation Sans, sans-serif" font-size="10.8" font-weight="bold" fill="#000" textLength="12.01" lengthAdjust="spacingAndGlyphs" stroke="#000" stroke-width="0.25" >35</text>
<text x="207.33" y="442.2" font-family="Liberation Sans, sans-serif" font-size="10.8" font-weight="bold" fill="#000" textLength="12.01" lengthAdjust="spacingAndGlyphs" stroke="#000" stroke-width="0.25" >40</text>
<text x="22.53" y="280.1190082644628" font-family="Liberation Sans, sans-serif" font-size="10.8" font-weight="bold" fill="#000" textLength="12.01" lengthAdjust="spacingAndGlyphs" stroke="#000" stroke-width="0.25" >40</text>
<text x="2.48" y="279.5" font-family="Liberation Sans, sans-serif" font-size="16" font-weight="bold" fill="#000" textLength="20.93" lengthAdjust="spacingAndGlyphs" stroke="#000" stroke-width="0.25" >(b)</text>
<text x="50.06" y="286.7" font-family="Liberation Sans, sans-serif" font-size="12.5" font-weight="bold" fill="#000" textLength="48.64" lengthAdjust="spacingAndGlyphs" stroke="#000" stroke-width="0.25" >LOOCV:</text>
<text x="49.8" y="303.29999999999995" font-family="Liberation Sans, sans-serif" font-size="12.5" font-weight="bold" fill="#000" stroke="#000" stroke-width="0.25">R</text>
<text x="59.14" y="298.5" font-family="Liberation Sans, sans-serif" font-size="8.6" fill="#000">2</text>
<text x="64.97" y="303.29999999999995" font-family="Liberation Sans, sans-serif" font-size="12.5" font-weight="bold" fill="#000" textLength="39.32" lengthAdjust="spacingAndGlyphs" stroke="#000" stroke-width="0.25" >=0.818</text>
<text x="50.06" y="319.2" font-family="Liberation Sans, sans-serif" font-size="12.5" font-weight="bold" fill="#7f7f7f" textLength="66.28" lengthAdjust="spacingAndGlyphs" stroke="#7f7f7f" stroke-width="0.25" >MAE=2.241</text>
<text x="40.82" y="457.2" font-family="Liberation Sans, sans-serif" font-size="13.15" font-weight="bold" fill="#000" textLength="175.24" lengthAdjust="spacingAndGlyphs" stroke="#000" stroke-width="0.25" >Experimental Elongation(%)</text>
<text transform="translate(17.0,408.2) rotate(-90)" x="-0.91" y="0" font-family="Liberation Sans, sans-serif" font-size="14.2" font-weight="bold" fill="#000" textLength="115.21" lengthAdjust="spacingAndGlyphs" stroke="#000" stroke-width="0.25">LOOCV-Predicted</text>
<line x1="267.0" y1="431.3" x2="448.1" y2="270.8" stroke="#505050" stroke-width="1.1" stroke-dasharray="3.3,2.1"/>
<path d="M357.5,319.4H378.8M357.5,316.79999999999995V322.0M378.8,316.79999999999995V322.0M368.3,311.8V326.3M365.7,311.8H370.90000000000003M365.7,326.3H370.90000000000003M365.6,330.2H386M365.6,327.59999999999997V332.8M386,327.59999999999997V332.8M376.8,323.4V337M374.2,323.4H379.40000000000003M374.2,337H379.40000000000003M377,332.9H392.6M377,330.29999999999995V335.5M392.6,330.29999999999995V335.5M384.0,324.3V341.4M381.4,324.3H386.6M381.4,341.4H386.6M393.2,337.8H421.5M393.2,335.2V340.40000000000003M421.5,335.2V340.40000000000003M407.3,332.6V342.7M404.7,332.6H409.90000000000003M404.7,342.7H409.90000000000003M357.7,342.7H375M357.7,340.09999999999997V345.3M375,340.09999999999997V345.3M366.3,334.8V351.2M363.7,334.8H368.90000000000003M363.7,351.2H368.90000000000003M370,344.4H389.7M370,341.79999999999995V347.0M389.7,341.79999999999995V347.0M377.5,337V351.9M374.9,337H380.1M374.9,351.9H380.1M316,378.2H326M316,375.59999999999997V380.8M326,375.59999999999997V380.8M321.0,372.2V384M318.4,372.2H323.6M318.4,384H323.6M308,382.1H321M308,379.5V384.70000000000005M321,379.5V384.70000000000005M296.5,385.6H311.9M296.5,383.0V388.20000000000005M311.9,383.0V388.20000000000005M304.8,381V390M302.2,381H307.40000000000003M302.2,390H307.40000000000003M317,386.2H327M317,383.59999999999997V388.8M327,383.59999999999997V388.8M321.8,381V391M319.2,381H324.40000000000003M319.2,391H324.40000000000003M322,389.2H333.2M322,386.59999999999997V391.8M333.2,386.59999999999997V391.8M327.7,384V394M325.09999999999997,384H330.3M325.09999999999997,394H330.3M279,403.5H286M279,400.9V406.1M286,400.9V406.1M282.7,398.8V408M280.09999999999997,398.8H285.3M280.09999999999997,408H285.3M275.5,409.8H294M275.5,407.2V412.40000000000003M294,407.2V412.40000000000003M288.1,405V414M285.5,405H290.70000000000005M285.5,414H290.70000000000005M286,411.2H302.6M286,408.59999999999997V413.8M302.6,408.59999999999997V413.8M292.2,404.9V417M289.59999999999997,404.9H294.8M289.59999999999997,417H294.8M283.2,415.7H311.7M283.2,413.09999999999997V418.3M311.7,413.09999999999997V418.3M297.2,411V420M294.59999999999997,411H299.8M294.59999999999997,420H299.8M290,418.9H300M290,416.29999999999995V421.5M300,416.29999999999995V421.5M295.1,413V424M292.5,413H297.70000000000005M292.5,424H297.70000000000005M288,424.6H298.5M288,422.0V427.20000000000005M298.5,422.0V427.20000000000005M293.2,419V430M290.59999999999997,419H295.8M290.59999999999997,430H295.8" stroke="#ff0000" stroke-width="1.1" fill="none" opacity="0.8"/>
<circle cx="368.3" cy="319.4" r="3.7" fill="#ff0000" stroke="#fff" stroke-width="0.5"/>
<circle cx="376.8" cy="330.2" r="3.7" fill="#ff0000" stroke="#fff" stroke-width="0.5"/>
<circle cx="384.0" cy="332.9" r="3.7" fill="#ff0000" stroke="#fff" stroke-width="0.5"/>
<circle cx="407.3" cy="337.8" r="3.7" fill="#ff0000" stroke="#fff" stroke-width="0.5"/>
<circle cx="366.3" cy="342.7" r="3.7" fill="#ff0000" stroke="#fff" stroke-width="0.5"/>
<circle cx="377.5" cy="344.4" r="3.7" fill="#ff0000" stroke="#fff" stroke-width="0.5"/>
<circle cx="321.0" cy="378.2" r="3.7" fill="#ff0000" stroke="#fff" stroke-width="0.5"/>
<circle cx="314.9" cy="382.1" r="3.7" fill="#ff0000" stroke="#fff" stroke-width="0.5"/>
<circle cx="304.8" cy="385.6" r="3.7" fill="#ff0000" stroke="#fff" stroke-width="0.5"/>
<circle cx="321.8" cy="386.2" r="3.7" fill="#ff0000" stroke="#fff" stroke-width="0.5"/>
<circle cx="327.7" cy="389.2" r="3.7" fill="#ff0000" stroke="#fff" stroke-width="0.5"/>
<circle cx="282.7" cy="403.5" r="3.7" fill="#ff0000" stroke="#fff" stroke-width="0.5"/>
<circle cx="288.1" cy="409.8" r="3.7" fill="#ff0000" stroke="#fff" stroke-width="0.5"/>
<circle cx="292.2" cy="411.2" r="3.7" fill="#ff0000" stroke="#fff" stroke-width="0.5"/>
<circle cx="297.2" cy="415.7" r="3.7" fill="#ff0000" stroke="#fff" stroke-width="0.5"/>
<circle cx="295.1" cy="418.9" r="3.7" fill="#ff0000" stroke="#fff" stroke-width="0.5"/>
<circle cx="293.2" cy="424.6" r="3.7" fill="#ff0000" stroke="#fff" stroke-width="0.5"/>
<rect x="267.0" y="270.8" width="181.10000000000002" height="160.5" fill="none" stroke="#000" stroke-width="1.6"/>
<path d="M292.44,431.3V428.7M267.0,408.75H269.6M322.38,431.3V428.7M267.0,382.22H269.6M352.31,431.3V428.7M267.0,355.69H269.6M382.25,431.3V428.7M267.0,329.16H269.6M412.18,431.3V428.7M267.0,302.63H269.6M442.11,431.3V428.7M267.0,276.11H269.6" stroke="#000" stroke-width="1.2"/>
<text x="286.45" y="441.6" font-family="Liberation Sans, sans-serif" font-size="10.8" font-weight="bold" fill="#000" textLength="12.01" lengthAdjust="spacingAndGlyphs" stroke="#000" stroke-width="0.25" >15</text>
<text x="251.99" y="412.55041322314054" font-family="Liberation Sans, sans-serif" font-size="10.8" font-weight="bold" fill="#000" textLength="12.01" lengthAdjust="spacingAndGlyphs" stroke="#000" stroke-width="0.25" >15</text>
<text x="316.61" y="441.6" font-family="Liberation Sans, sans-serif" font-size="10.8" font-weight="bold" fill="#000" textLength="12.01" lengthAdjust="spacingAndGlyphs" stroke="#000" stroke-width="0.25" >20</text>
<text x="252.13" y="386.0214876033058" font-family="Liberation Sans, sans-serif" font-size="10.8" font-weight="bold" fill="#000" textLength="12.01" lengthAdjust="spacingAndGlyphs" stroke="#000" stroke-width="0.25" >20</text>
<text x="346.47" y="441.6" font-family="Liberation Sans, sans-serif" font-size="10.8" font-weight="bold" fill="#000" textLength="12.01" lengthAdjust="spacingAndGlyphs" stroke="#000" stroke-width="0.25" >25</text>
<text x="251.99" y="359.4925619834711" font-family="Liberation Sans, sans-serif" font-size="10.8" font-weight="bold" fill="#000" textLength="12.01" lengthAdjust="spacingAndGlyphs" stroke="#000" stroke-width="0.25" >25</text>
<text x="376.54" y="441.6" font-family="Liberation Sans, sans-serif" font-size="10.8" font-weight="bold" fill="#000" textLength="12.01" lengthAdjust="spacingAndGlyphs" stroke="#000" stroke-width="0.25" >30</text>
<text x="252.13" y="332.9636363636364" font-family="Liberation Sans, sans-serif" font-size="10.8" font-weight="bold" fill="#000" textLength="12.01" lengthAdjust="spacingAndGlyphs" stroke="#000" stroke-width="0.25" >30</text>
<text x="406.4" y="441.6" font-family="Liberation Sans, sans-serif" font-size="10.8" font-weight="bold" fill="#000" textLength="12.01" lengthAdjust="spacingAndGlyphs" stroke="#000" stroke-width="0.25" >35</text>
<text x="251.99" y="306.43471074380165" font-family="Liberation Sans, sans-serif" font-size="10.8" font-weight="bold" fill="#000" textLength="12.01" lengthAdjust="spacingAndGlyphs" stroke="#000" stroke-width="0.25" >35</text>
<text x="436.45" y="441.6" font-family="Liberation Sans, sans-serif" font-size="10.8" font-weight="bold" fill="#000" textLength="12.01" lengthAdjust="spacingAndGlyphs" stroke="#000" stroke-width="0.25" >40</text>
<text x="252.13" y="279.90578512396695" font-family="Liberation Sans, sans-serif" font-size="10.8" font-weight="bold" fill="#000" textLength="12.01" lengthAdjust="spacingAndGlyphs" stroke="#000" stroke-width="0.25" >40</text>
<text x="231.94" y="281.0" font-family="Liberation Sans, sans-serif" font-size="16" font-weight="bold" fill="#000" textLength="19.52" lengthAdjust="spacingAndGlyphs" stroke="#000" stroke-width="0.25" >(d)</text>
<text x="279.66" y="286.5" font-family="Liberation Sans, sans-serif" font-size="12.5" font-weight="bold" fill="#000" textLength="48.64" lengthAdjust="spacingAndGlyphs" stroke="#000" stroke-width="0.25" >LOOCV:</text>
<text x="279.4" y="303.09999999999997" font-family="Liberation Sans, sans-serif" font-size="12.5" font-weight="bold" fill="#000" stroke="#000" stroke-width="0.25">R</text>
<text x="288.74" y="298.3" font-family="Liberation Sans, sans-serif" font-size="8.6" fill="#000">2</text>
<text x="294.58" y="303.09999999999997" font-family="Liberation Sans, sans-serif" font-size="12.5" font-weight="bold" fill="#000" textLength="38.98" lengthAdjust="spacingAndGlyphs" stroke="#000" stroke-width="0.25" >=0.856</text>
<text x="279.67" y="319.0" font-family="Liberation Sans, sans-serif" font-size="12.5" font-weight="bold" fill="#7f7f7f" textLength="65.69" lengthAdjust="spacingAndGlyphs" stroke="#7f7f7f" stroke-width="0.25" >MAE=1.934</text>
<text x="269.62" y="457.2" font-family="Liberation Sans, sans-serif" font-size="13.15" font-weight="bold" fill="#000" textLength="175.24" lengthAdjust="spacingAndGlyphs" stroke="#000" stroke-width="0.25" >Experimental Elongation(%)</text>
<text transform="translate(245.6,407.6) rotate(-90)" x="-0.91" y="0" font-family="Liberation Sans, sans-serif" font-size="14.2" font-weight="bold" fill="#000" textLength="115.21" lengthAdjust="spacingAndGlyphs" stroke="#000" stroke-width="0.25">LOOCV-Predicted</text>
<line x1="494.0" y1="431.7" x2="675.9" y2="270.7" stroke="#505050" stroke-width="1.1" stroke-dasharray="3.3,2.1"/>
<path d="M584.5,328.1H606M584.5,325.5V330.70000000000005M606,325.5V330.70000000000005M595.4,321.8V333.7M592.8,321.8H598.0M592.8,333.7H598.0M595,330.4H612M595,327.79999999999995V333.0M612,327.79999999999995V333.0M603.9,323.1V337M601.3,323.1H606.5M601.3,337H606.5M603,333.0H620.6M603,330.4V335.6M620.6,330.4V335.6M611.1,324.2V341.5M608.5,324.2H613.7M608.5,341.5H613.7M620.3,338.3H648.8M620.3,335.7V340.90000000000003M648.8,335.7V340.90000000000003M634.4,333.4V343.5M631.8,333.4H637.0M631.8,343.5H637.0M584.5,342.2H602M584.5,339.59999999999997V344.8M602,339.59999999999997V344.8M593.4,335V351.4M590.8,335H596.0M590.8,351.4H596.0M594,345.2H616.6M594,342.59999999999997V347.8M616.6,342.59999999999997V347.8M604.8,338V353.4M602.1999999999999,338H607.4M602.1999999999999,353.4H607.4M537,379.3H547M537,376.7V381.90000000000003M547,376.7V381.90000000000003M542.0,374.4V384M539.4,374.4H544.6M539.4,384H544.6M543,379.7H553M543,377.09999999999997V382.3M553,377.09999999999997V382.3M548.0,374.5V385M545.4,374.5H550.6M545.4,385H550.6M544,384.4H554M544,381.79999999999995V387.0M554,381.79999999999995V387.0M548.9,379V389.5M546.3,379H551.5M546.3,389.5H551.5M550,387.5H559.6M550,384.9V390.1M559.6,384.9V390.1M554.8,382.5V392.1M552.1999999999999,382.5H557.4M552.1999999999999,392.1H557.4M524,383.9H538M524,381.29999999999995V386.5M538,381.29999999999995V386.5M523.9,386.1H541M523.9,383.5V388.70000000000005M541,383.5V388.70000000000005M532.1,380V390M529.5,380H534.7M529.5,390H534.7M506,404.9H514M506,402.29999999999995V407.5M514,402.29999999999995V407.5M510.1,399.5V409M507.5,399.5H512.7M507.5,409H512.7M502.2,410.1H522M502.2,407.5V412.70000000000005M522,407.5V412.70000000000005M515.4,405V415M512.8,405H518.0M512.8,415H518.0M514,413.2H538.9M514,410.59999999999997V415.8M538.9,410.59999999999997V415.8M524.2,407V419M521.6,407H526.8000000000001M521.6,419H526.8000000000001M517,416.3H528M517,413.7V418.90000000000003M528,413.7V418.90000000000003M522.4,411V421M519.8,411H525.0M519.8,421H525.0M514,416.3H525M514,413.7V418.90000000000003M525,413.7V418.90000000000003M519.6,411V421M517.0,411H522.2M517.0,421H522.2M516,422.9H525M516,420.29999999999995V425.5M525,420.29999999999995V425.5M520.6,418V428M518.0,418H523.2M518.0,428H523.2" stroke="#ff0000" stroke-width="1.1" fill="none" opacity="0.8"/>
<circle cx="595.4" cy="328.1" r="3.7" fill="#ff0000" stroke="#fff" stroke-width="0.5"/>
<circle cx="603.9" cy="330.4" r="3.7" fill="#ff0000" stroke="#fff" stroke-width="0.5"/>
<circle cx="611.1" cy="333.0" r="3.7" fill="#ff0000" stroke="#fff" stroke-width="0.5"/>
<circle cx="634.4" cy="338.3" r="3.7" fill="#ff0000" stroke="#fff" stroke-width="0.5"/>
<circle cx="593.4" cy="342.2" r="3.7" fill="#ff0000" stroke="#fff" stroke-width="0.5"/>
<circle cx="604.8" cy="345.2" r="3.7" fill="#ff0000" stroke="#fff" stroke-width="0.5"/>
<circle cx="542.0" cy="379.3" r="3.7" fill="#ff0000" stroke="#fff" stroke-width="0.5"/>
<circle cx="548.0" cy="379.7" r="3.7" fill="#ff0000" stroke="#fff" stroke-width="0.5"/>
<circle cx="548.9" cy="384.4" r="3.7" fill="#ff0000" stroke="#fff" stroke-width="0.5"/>
<circle cx="554.8" cy="387.5" r="3.7" fill="#ff0000" stroke="#fff" stroke-width="0.5"/>
<circle cx="531.2" cy="383.9" r="3.7" fill="#ff0000" stroke="#fff" stroke-width="0.5"/>
<circle cx="532.1" cy="386.1" r="3.7" fill="#ff0000" stroke="#fff" stroke-width="0.5"/>
<circle cx="510.1" cy="404.9" r="3.7" fill="#ff0000" stroke="#fff" stroke-width="0.5"/>
<circle cx="515.4" cy="410.1" r="3.7" fill="#ff0000" stroke="#fff" stroke-width="0.5"/>
<circle cx="524.2" cy="413.2" r="3.7" fill="#ff0000" stroke="#fff" stroke-width="0.5"/>
<circle cx="522.4" cy="416.3" r="3.7" fill="#ff0000" stroke="#fff" stroke-width="0.5"/>
<circle cx="519.6" cy="416.3" r="3.7" fill="#ff0000" stroke="#fff" stroke-width="0.5"/>
<circle cx="520.6" cy="422.9" r="3.7" fill="#ff0000" stroke="#fff" stroke-width="0.5"/>
<rect x="494.0" y="270.7" width="181.89999999999998" height="161.0" fill="none" stroke="#000" stroke-width="1.6"/>
<path d="M519.56,431.7V429.09999999999997M494.0,409.08H496.6M549.62,431.7V429.09999999999997M494.0,382.47H496.6M579.69,431.7V429.09999999999997M494.0,355.86H496.6M609.75,431.7V429.09999999999997M494.0,329.25H496.6M639.82,431.7V429.09999999999997M494.0,302.63H496.6M669.89,431.7V429.09999999999997M494.0,276.02H496.6" stroke="#000" stroke-width="1.2"/>
<text x="513.56" y="442.0" font-family="Liberation Sans, sans-serif" font-size="10.8" font-weight="bold" fill="#000" textLength="12.01" lengthAdjust="spacingAndGlyphs" stroke="#000" stroke-width="0.25" >15</text>
<text x="478.99" y="412.8801652892562" font-family="Liberation Sans, sans-serif" font-size="10.8" font-weight="bold" fill="#000" textLength="12.01" lengthAdjust="spacingAndGlyphs" stroke="#000" stroke-width="0.25" >15</text>
<text x="543.85" y="442.0" font-family="Liberation Sans, sans-serif" font-size="10.8" font-weight="bold" fill="#000" textLength="12.01" lengthAdjust="spacingAndGlyphs" stroke="#000" stroke-width="0.25" >20</text>
<text x="479.13" y="386.2685950413223" font-family="Liberation Sans, sans-serif" font-size="10.8" font-weight="bold" fill="#000" textLength="12.01" lengthAdjust="spacingAndGlyphs" stroke="#000" stroke-width="0.25" >20</text>
<text x="573.85" y="442.0" font-family="Liberation Sans, sans-serif" font-size="10.8" font-weight="bold" fill="#000" textLength="12.01" lengthAdjust="spacingAndGlyphs" stroke="#000" stroke-width="0.25" >25</text>
<text x="478.99" y="359.6570247933884" font-family="Liberation Sans, sans-serif" font-size="10.8" font-weight="bold" fill="#000" textLength="12.01" lengthAdjust="spacingAndGlyphs" stroke="#000" stroke-width="0.25" >25</text>
<text x="604.05" y="442.0" font-family="Liberation Sans, sans-serif" font-size="10.8" font-weight="bold" fill="#000" textLength="12.01" lengthAdjust="spacingAndGlyphs" stroke="#000" stroke-width="0.25" >30</text>
<text x="479.13" y="333.04545454545456" font-family="Liberation Sans, sans-serif" font-size="10.8" font-weight="bold" fill="#000" textLength="12.01" lengthAdjust="spacingAndGlyphs" stroke="#000" stroke-width="0.25" >30</text>
<text x="634.04" y="442.0" font-family="Liberation Sans, sans-serif" font-size="10.8" font-weight="bold" fill="#000" textLength="12.01" lengthAdjust="spacingAndGlyphs" stroke="#000" stroke-width="0.25" >35</text>
<text x="478.99" y="306.43388429752065" font-family="Liberation Sans, sans-serif" font-size="10.8" font-weight="bold" fill="#000" textLength="12.01" lengthAdjust="spacingAndGlyphs" stroke="#000" stroke-width="0.25" >35</text>
<text x="664.22" y="442.0" font-family="Liberation Sans, sans-serif" font-size="10.8" font-weight="bold" fill="#000" textLength="12.01" lengthAdjust="spacingAndGlyphs" stroke="#000" stroke-width="0.25" >40</text>
<text x="479.13" y="279.82231404958674" font-family="Liberation Sans, sans-serif" font-size="10.8" font-weight="bold" fill="#000" textLength="12.01" lengthAdjust="spacingAndGlyphs" stroke="#000" stroke-width="0.25" >40</text>
<text x="461.6" y="281.0" font-family="Liberation Sans, sans-serif" font-size="16" font-weight="bold" fill="#000" textLength="15.99" lengthAdjust="spacingAndGlyphs" stroke="#000" stroke-width="0.25" >(f)</text>
<text x="506.66" y="286.4" font-family="Liberation Sans, sans-serif" font-size="12.5" font-weight="bold" fill="#000" textLength="48.64" lengthAdjust="spacingAndGlyphs" stroke="#000" stroke-width="0.25" >LOOCV:</text>
<text x="506.4" y="302.99999999999994" font-family="Liberation Sans, sans-serif" font-size="12.5" font-weight="bold" fill="#000" stroke="#000" stroke-width="0.25">R</text>
<text x="515.74" y="298.2" font-family="Liberation Sans, sans-serif" font-size="8.6" fill="#000">2</text>
<text x="521.56" y="302.99999999999994" font-family="Liberation Sans, sans-serif" font-size="12.5" font-weight="bold" fill="#000" textLength="33.01" lengthAdjust="spacingAndGlyphs" stroke="#000" stroke-width="0.25" >=0.87</text>
<text x="506.67" y="318.9" font-family="Liberation Sans, sans-serif" font-size="12.5" font-weight="bold" fill="#7f7f7f" textLength="65.69" lengthAdjust="spacingAndGlyphs" stroke="#7f7f7f" stroke-width="0.25" >MAE=1.784</text>
<text x="497.62" y="457.3" font-family="Liberation Sans, sans-serif" font-size="13.15" font-weight="bold" fill="#000" textLength="175.24" lengthAdjust="spacingAndGlyphs" stroke="#000" stroke-width="0.25" >Experimental Elongation(%)</text>
<text transform="translate(473.6,407.6) rotate(-90)" x="-0.91" y="0" font-family="Liberation Sans, sans-serif" font-size="14.2" font-weight="bold" fill="#000" textLength="115.21" lengthAdjust="spacingAndGlyphs" stroke="#000" stroke-width="0.25">LOOCV-Predicted</text>
<rect x="604.6" y="163.8" width="63.799999999999955" height="54.099999999999994" fill="#fff" stroke="#000" stroke-width="1.2"/>
<path d="M607.10,217.9V215.5M619.26,217.9V215.5M631.42,217.9V215.5M643.58,217.9V215.5M655.74,217.9V215.5M667.90,217.9V215.5M604.6,210.40H606.8000000000001M604.6,197.44H606.8000000000001M604.6,184.47H606.8000000000001M604.6,171.50H606.8000000000001" stroke="#000" stroke-width="1"/>
<text x="604.99" y="225.1" font-family="Liberation Sans, sans-serif" font-size="7.6" font-weight="normal" fill="#000" textLength="4.23" lengthAdjust="spacingAndGlyphs" stroke="#000" stroke-width="0.3">0</text>
<text x="617.04" y="225.1" font-family="Liberation Sans, sans-serif" font-size="7.6" font-weight="normal" fill="#000" textLength="4.23" lengthAdjust="spacingAndGlyphs" stroke="#000" stroke-width="0.3">1</text>
<text x="629.31" y="225.1" font-family="Liberation Sans, sans-serif" font-size="7.6" font-weight="normal" fill="#000" textLength="4.23" lengthAdjust="spacingAndGlyphs" stroke="#000" stroke-width="0.3">2</text>
<text x="641.49" y="225.1" font-family="Liberation Sans, sans-serif" font-size="7.6" font-weight="normal" fill="#000" textLength="4.23" lengthAdjust="spacingAndGlyphs" stroke="#000" stroke-width="0.3">3</text>
<text x="653.65" y="225.1" font-family="Liberation Sans, sans-serif" font-size="7.6" font-weight="normal" fill="#000" textLength="4.23" lengthAdjust="spacingAndGlyphs" stroke="#000" stroke-width="0.3">4</text>
<text x="665.79" y="225.1" font-family="Liberation Sans, sans-serif" font-size="7.6" font-weight="normal" fill="#000" textLength="4.23" lengthAdjust="spacingAndGlyphs" stroke="#000" stroke-width="0.3">5</text>
<text x="583.49" y="213.1" font-family="Liberation Sans, sans-serif" font-size="7.8" font-weight="normal" fill="#000" textLength="20.03" lengthAdjust="spacingAndGlyphs" stroke="#000" stroke-width="0.12">0.940</text>
<text x="583.49" y="200.135" font-family="Liberation Sans, sans-serif" font-size="7.8" font-weight="normal" fill="#000" textLength="20.05" lengthAdjust="spacingAndGlyphs" stroke="#000" stroke-width="0.12">0.945</text>
<text x="583.49" y="187.16999999999996" font-family="Liberation Sans, sans-serif" font-size="7.8" font-weight="normal" fill="#000" textLength="20.03" lengthAdjust="spacingAndGlyphs" stroke="#000" stroke-width="0.12">0.950</text>
<text x="583.49" y="174.20499999999996" font-family="Liberation Sans, sans-serif" font-size="7.8" font-weight="normal" fill="#000" textLength="20.05" lengthAdjust="spacingAndGlyphs" stroke="#000" stroke-width="0.12">0.955</text>
<polyline points="607.00,215.80 609.45,214.13 611.90,210.10 614.35,202.50 616.80,193.51 619.25,183.17 621.70,175.30 624.15,171.34 626.60,168.30 629.05,166.93 631.50,166.26 633.95,165.91 636.40,165.92 638.85,166.42 641.30,166.92 643.75,167.81 646.20,168.78 648.65,169.83 651.10,170.95 653.55,172.08 656.00,173.43 658.45,174.79 660.90,176.11 663.35,177.43 665.80,178.75" fill="none" stroke="#1a3cff" stroke-width="0.9"/>
<circle cx="607.00" cy="215.80" r="1.45" fill="#1a3cff"/>
<circle cx="609.45" cy="214.13" r="1.45" fill="#1a3cff"/>
<circle cx="611.90" cy="210.10" r="1.45" fill="#1a3cff"/>
<circle cx="614.35" cy="202.50" r="1.45" fill="#1a3cff"/>
<circle cx="616.80" cy="193.51" r="1.45" fill="#1a3cff"/>
<circle cx="619.25" cy="183.17" r="1.45" fill="#1a3cff"/>
<circle cx="621.70" cy="175.30" r="1.45" fill="#1a3cff"/>
<circle cx="624.15" cy="171.34" r="1.45" fill="#1a3cff"/>
<circle cx="626.60" cy="168.30" r="1.45" fill="#1a3cff"/>
<circle cx="629.05" cy="166.93" r="1.45" fill="#1a3cff"/>
<circle cx="631.50" cy="166.26" r="1.45" fill="#1a3cff"/>
<circle cx="633.95" cy="165.91" r="1.45" fill="#1a3cff"/>
<circle cx="636.40" cy="165.92" r="1.45" fill="#1a3cff"/>
<circle cx="638.85" cy="166.42" r="1.45" fill="#1a3cff"/>
<circle cx="641.30" cy="166.92" r="1.45" fill="#1a3cff"/>
<circle cx="643.75" cy="167.81" r="1.45" fill="#1a3cff"/>
<circle cx="646.20" cy="168.78" r="1.45" fill="#1a3cff"/>
<circle cx="648.65" cy="169.83" r="1.45" fill="#1a3cff"/>
<circle cx="651.10" cy="170.95" r="1.45" fill="#1a3cff"/>
<circle cx="653.55" cy="172.08" r="1.45" fill="#1a3cff"/>
<circle cx="656.00" cy="173.43" r="1.45" fill="#1a3cff"/>
<circle cx="658.45" cy="174.79" r="1.45" fill="#1a3cff"/>
<circle cx="660.90" cy="176.11" r="1.45" fill="#1a3cff"/>
<circle cx="663.35" cy="177.43" r="1.45" fill="#1a3cff"/>
<circle cx="665.80" cy="178.75" r="1.45" fill="#1a3cff"/>
<text transform="translate(580.9,214.4) rotate(-90)" x="-0.57" y="0" font-family="Liberation Sans, sans-serif" font-size="9.2" font-weight="bold" fill="#000" textLength="39.45" lengthAdjust="spacingAndGlyphs" stroke="#000" stroke-width="0.25">LOOCV-R</text>
<text transform="translate(577.5,174.8) rotate(-90)" x="-0.33" y="0" font-family="Liberation Sans, sans-serif" font-size="6.86" fill="#000" textLength="3.66" lengthAdjust="spacingAndGlyphs">2</text>
<rect x="600.8" y="365.6" width="69.0" height="53.799999999999955" fill="#fff" stroke="#000" stroke-width="1.2"/>
<path d="M603.90,419.4V417.0M616.84,419.4V417.0M629.78,419.4V417.0M642.72,419.4V417.0M655.66,419.4V417.0M668.60,419.4V417.0M600.8,417.10H603.0M600.8,409.57H603.0M600.8,402.03H603.0M600.8,394.50H603.0M600.8,386.96H603.0M600.8,379.43H603.0M600.8,371.90H603.0" stroke="#000" stroke-width="1"/>
<text x="601.79" y="426.59999999999997" font-family="Liberation Sans, sans-serif" font-size="7.6" font-weight="normal" fill="#000" textLength="4.23" lengthAdjust="spacingAndGlyphs" stroke="#000" stroke-width="0.3">0</text>
<text x="614.62" y="426.59999999999997" font-family="Liberation Sans, sans-serif" font-size="7.6" font-weight="normal" fill="#000" textLength="4.23" lengthAdjust="spacingAndGlyphs" stroke="#000" stroke-width="0.3">1</text>
<text x="627.67" y="426.59999999999997" font-family="Liberation Sans, sans-serif" font-size="7.6" font-weight="normal" fill="#000" textLength="4.23" lengthAdjust="spacingAndGlyphs" stroke="#000" stroke-width="0.3">2</text>
<text x="640.63" y="426.59999999999997" font-family="Liberation Sans, sans-serif" font-size="7.6" font-weight="normal" fill="#000" textLength="4.23" lengthAdjust="spacingAndGlyphs" stroke="#000" stroke-width="0.3">3</text>
<text x="653.57" y="426.59999999999997" font-family="Liberation Sans, sans-serif" font-size="7.6" font-weight="normal" fill="#000" textLength="4.23" lengthAdjust="spacingAndGlyphs" stroke="#000" stroke-width="0.3">4</text>
<text x="666.49" y="426.59999999999997" font-family="Liberation Sans, sans-serif" font-size="7.6" font-weight="normal" fill="#000" textLength="4.23" lengthAdjust="spacingAndGlyphs" stroke="#000" stroke-width="0.3">5</text>
<text x="584.19" y="419.8" font-family="Liberation Sans, sans-serif" font-size="7.2" font-weight="bold" fill="#000" textLength="15.25" lengthAdjust="spacingAndGlyphs" stroke="#000" stroke-width="0.25" >0.74</text>
<text x="584.18" y="412.266" font-family="Liberation Sans, sans-serif" font-size="7.2" font-weight="bold" fill="#000" textLength="15.5" lengthAdjust="spacingAndGlyphs" stroke="#000" stroke-width="0.25" >0.76</text>
<text x="584.19" y="404.732" font-family="Liberation Sans, sans-serif" font-size="7.2" font-weight="bold" fill="#000" textLength="15.46" lengthAdjust="spacingAndGlyphs" stroke="#000" stroke-width="0.25" >0.78</text>
<text x="584.18" y="397.198" font-family="Liberation Sans, sans-serif" font-size="7.2" font-weight="bold" fill="#000" textLength="15.54" lengthAdjust="spacingAndGlyphs" stroke="#000" stroke-width="0.25" >0.80</text>
<text x="584.18" y="389.66400000000004" font-family="Liberation Sans, sans-serif" font-size="7.2" font-weight="bold" fill="#000" textLength="15.54" lengthAdjust="spacingAndGlyphs" stroke="#000" stroke-width="0.25" >0.82</text>
<text x="584.19" y="382.13000000000005" font-family="Liberation Sans, sans-serif" font-size="7.2" font-weight="bold" fill="#000" textLength="15.25" lengthAdjust="spacingAndGlyphs" stroke="#000" stroke-width="0.25" >0.84</text>
<text x="584.18" y="374.596" font-family="Liberation Sans, sans-serif" font-size="7.2" font-weight="bold" fill="#000" textLength="15.5" lengthAdjust="spacingAndGlyphs" stroke="#000" stroke-width="0.25" >0.86</text>
<polyline points="603.90,373.20 606.49,372.20 609.08,370.40 611.66,368.60 614.25,367.60 616.84,368.00 619.43,370.00 622.02,373.30 624.60,379.90 627.19,386.40 629.78,390.90 632.37,393.60 634.96,395.20 637.54,396.80 640.13,398.10 642.72,399.70 645.31,401.00 647.90,402.60 650.48,404.10 653.07,406.00 655.66,407.90 658.25,410.00 660.84,412.20 663.42,414.60 666.01,417.60" fill="none" stroke="#ff1010" stroke-width="0.9"/>
<circle cx="603.90" cy="373.20" r="1.45" fill="#ff1010"/>
<circle cx="606.49" cy="372.20" r="1.45" fill="#ff1010"/>
<circle cx="609.08" cy="370.40" r="1.45" fill="#ff1010"/>
<circle cx="611.66" cy="368.60" r="1.45" fill="#ff1010"/>
<circle cx="614.25" cy="367.60" r="1.45" fill="#ff1010"/>
<circle cx="616.84" cy="368.00" r="1.45" fill="#ff1010"/>
<circle cx="619.43" cy="370.00" r="1.45" fill="#ff1010"/>
<circle cx="622.02" cy="373.30" r="1.45" fill="#ff1010"/>
<circle cx="624.60" cy="379.90" r="1.45" fill="#ff1010"/>
<circle cx="627.19" cy="386.40" r="1.45" fill="#ff1010"/>
<circle cx="629.78" cy="390.90" r="1.45" fill="#ff1010"/>
<circle cx="632.37" cy="393.60" r="1.45" fill="#ff1010"/>
<circle cx="634.96" cy="395.20" r="1.45" fill="#ff1010"/>
<circle cx="637.54" cy="396.80" r="1.45" fill="#ff1010"/>
<circle cx="640.13" cy="398.10" r="1.45" fill="#ff1010"/>
<circle cx="642.72" cy="399.70" r="1.45" fill="#ff1010"/>
<circle cx="645.31" cy="401.00" r="1.45" fill="#ff1010"/>
<circle cx="647.90" cy="402.60" r="1.45" fill="#ff1010"/>
<circle cx="650.48" cy="404.10" r="1.45" fill="#ff1010"/>
<circle cx="653.07" cy="406.00" r="1.45" fill="#ff1010"/>
<circle cx="655.66" cy="407.90" r="1.45" fill="#ff1010"/>
<circle cx="658.25" cy="410.00" r="1.45" fill="#ff1010"/>
<circle cx="660.84" cy="412.20" r="1.45" fill="#ff1010"/>
<circle cx="663.42" cy="414.60" r="1.45" fill="#ff1010"/>
<circle cx="666.01" cy="417.60" r="1.45" fill="#ff1010"/>
<text transform="translate(581.9,413.3) rotate(-90)" x="-0.57" y="0" font-family="Liberation Sans, sans-serif" font-size="9.2" font-weight="bold" fill="#000" textLength="39.24" lengthAdjust="spacingAndGlyphs" stroke="#000" stroke-width="0.25">LOOCV-R</text>
<text transform="translate(578.9,374.3) rotate(-90)" x="-0.36" y="0" font-family="Liberation Sans, sans-serif" font-size="6.71" fill="#000" textLength="4.03" lengthAdjust="spacingAndGlyphs">2</text>
<text x="624.52" y="194.3" font-family="Liberation Serif, serif" font-size="13.6" font-weight="bold" fill="#1f4fff" textLength="6.03" lengthAdjust="spacingAndGlyphs" font-style="italic" stroke="#1f4fff" stroke-width="0.6">τ</text>
<text x="631.32" y="194.3" font-family="Liberation Sans, sans-serif" font-size="8.9" font-weight="bold" fill="#1f4fff" textLength="18.05" lengthAdjust="spacingAndGlyphs" stroke="#1f4fff" stroke-width="0.5">=2.2</text>
<text x="621.75" y="210.7" font-family="Liberation Serif, serif" font-size="12" font-weight="bold" fill="#000" textLength="5.34" lengthAdjust="spacingAndGlyphs" font-style="italic" stroke="#000" stroke-width="0.35">τ</text>
<text x="631.75" y="210.7" font-family="Liberation Sans, sans-serif" font-size="8.3" font-weight="bold" fill="#000" textLength="30.68" lengthAdjust="spacingAndGlyphs" stroke="#000" stroke-width="0.25">for UTS</text>
<path d="M635.8,183.6V174" stroke="#1f4fff" stroke-width="2.2"/><path d="M632.8,174.8L635.8,168.6L638.9,174.8Z" fill="#1f4fff"/>
<text x="603.23" y="393.6" font-family="Liberation Serif, serif" font-size="12.6" font-weight="bold" fill="#ff1010" textLength="5.84" lengthAdjust="spacingAndGlyphs" font-style="italic" stroke="#ff1010" stroke-width="0.6">τ</text>
<text x="609.53" y="393.6" font-family="Liberation Sans, sans-serif" font-size="8.7" font-weight="bold" fill="#ff1010" textLength="17.75" lengthAdjust="spacingAndGlyphs" stroke="#ff1010" stroke-width="0.5">=0.8</text>
<text x="616.56" y="406.8" font-family="Liberation Serif, serif" font-size="11.5" font-weight="bold" fill="#000" textLength="5.14" lengthAdjust="spacingAndGlyphs" font-style="italic" stroke="#000" stroke-width="0.35">τ</text>
<text x="625.85" y="406.8" font-family="Liberation Sans, sans-serif" font-size="8.3" font-weight="bold" fill="#000" textLength="11.58" lengthAdjust="spacingAndGlyphs" stroke="#000" stroke-width="0.25">for</text>
<text x="605.01" y="414.7" font-family="Liberation Sans, sans-serif" font-size="8.6" font-weight="bold" fill="#000" textLength="45.74" lengthAdjust="spacingAndGlyphs" stroke="#000" stroke-width="0.25" >Elongation</text>
<path d="M612.3,386.6V377.5" stroke="#ff1010" stroke-width="2.3"/><path d="M609.1,378.2L612.3,371.6L615.6,378.2Z" fill="#ff1010"/>
</svg></body></html>
